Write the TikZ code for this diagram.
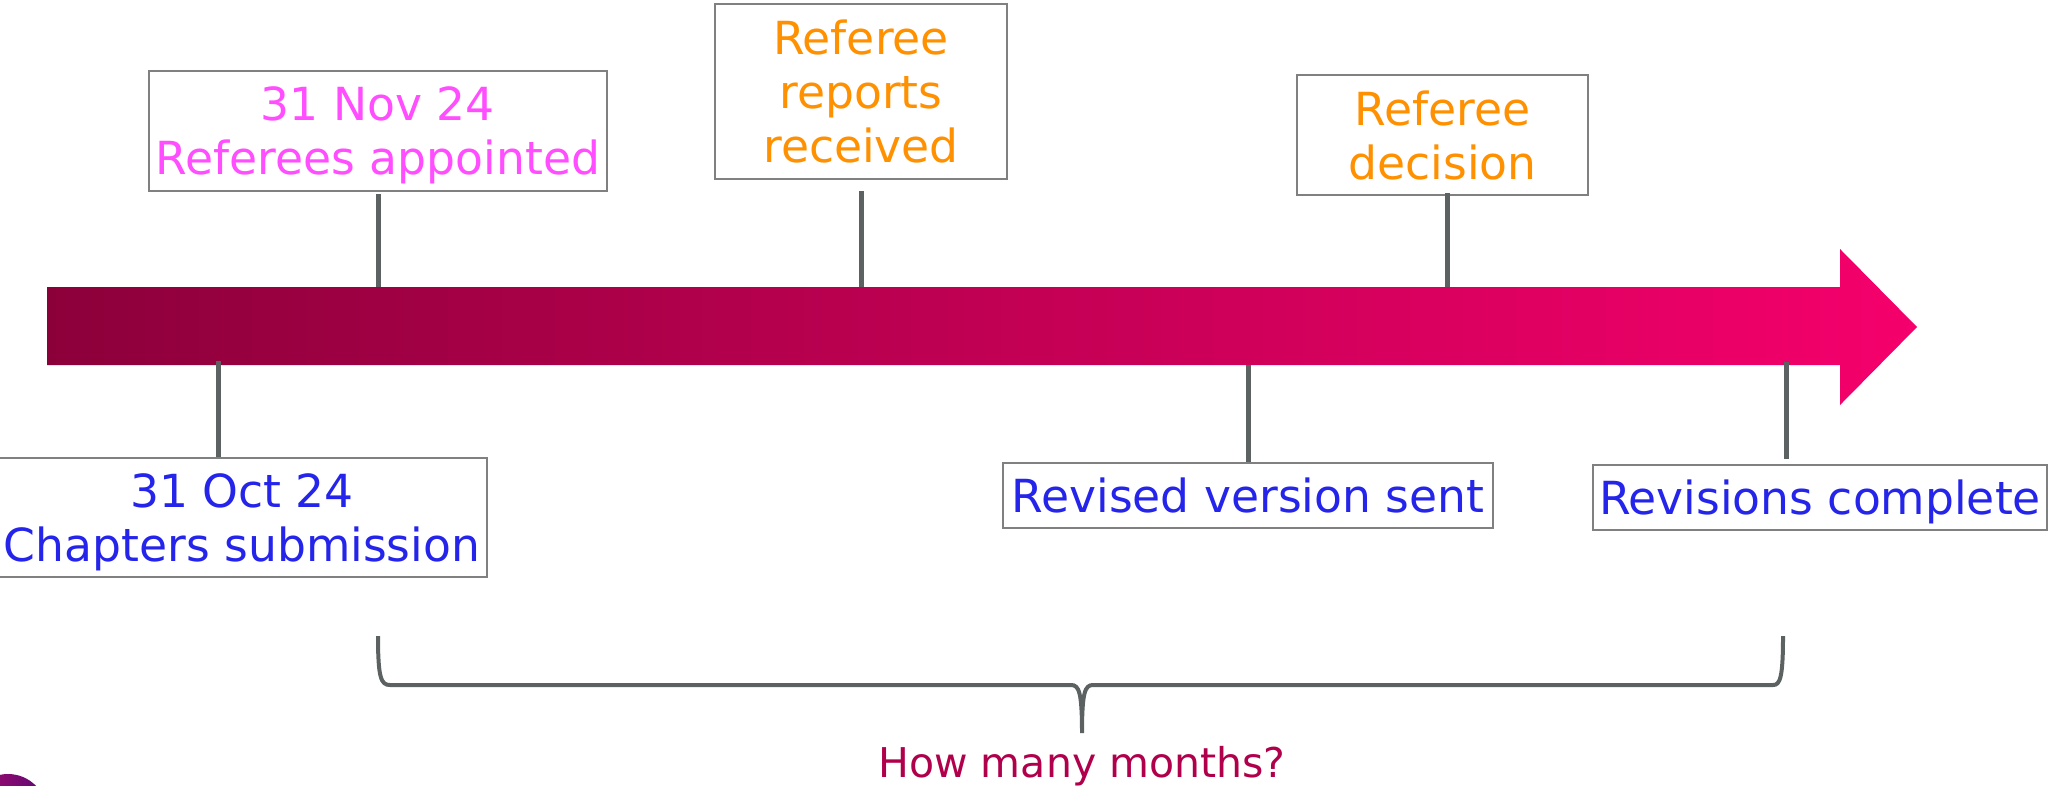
\documentclass[tikz,border=0pt]{standalone}
\usepackage{fontspec}
\setmainfont{DejaVu Sans}
\definecolor{arrL}{RGB}{140,0,58}
\definecolor{arrR}{RGB}{245,0,108}
\definecolor{conncol}{RGB}{92,97,97}
\definecolor{boxline}{RGB}{128,128,128}
\definecolor{pinktxt}{RGB}{255,77,255}
\definecolor{orangetxt}{RGB}{255,144,0}
\definecolor{bluetxt}{RGB}{36,36,235}
\definecolor{redtxt}{RGB}{176,0,76}
\definecolor{circL}{RGB}{170,10,110}
\definecolor{circR}{RGB}{90,10,115}
\tikzset{
  evbox/.style={draw=boxline, line width=1.5pt, fill=white, align=center, inner sep=0pt,
    text depth=0pt, font=\fontsize{45.6}{54}\selectfont},
  conn/.style={draw=conncol, line width=5pt},
  bracestyle/.style={draw=conncol, line width=4pt},
}
\begin{document}
\begin{tikzpicture}[x=1pt,y=-1pt]
\useasboundingbox (0,0) rectangle (2049,785);
\begin{scope}
\clip (0,0) rectangle (2049,785);
% decorative circle in the corner
\shade[left color=circL, right color=circR] (8,813) circle (39);
% timeline arrow
\shade[left color=arrL, right color=arrR]
  (47,287) -- (1840,287) -- (1840,249) -- (1917,327) -- (1840,405) -- (1840,365) -- (47,365) -- cycle;
\coordinate (atop) at (0,287);
\coordinate (abot) at (0,365);
% boxes
\node[evbox, text=pinktxt, minimum width=458, minimum height=120] (b1) at (378,131) {31 Nov 24\\Referees appointed};
\node[evbox, text=orangetxt, minimum width=292, minimum height=175] (b2) at (861,91.5) {Referee\\reports\\received};
\node[evbox, text=orangetxt, minimum width=291, minimum height=120] (b3) at (1442.5,135) {Referee\\decision};
\node[evbox, text=bluetxt, minimum width=490, minimum height=119] (b4) at (242,517.5) {31 Oct 24\\Chapters submission};
\node[evbox, text=bluetxt, minimum width=490, minimum height=65] (b5) at (1248,495.5) {Revised version sent};
\node[evbox, text=bluetxt, minimum width=454, minimum height=65] (b6) at (1820,497.5) {Revisions complete};
% connectors
\coordinate (l1) at (378,194);
\draw[conn] (l1) -- (l1 |- atop);
\coordinate (l2) at (861,191);
\draw[conn] (l2) -- (l2 |- atop);
\coordinate (l3) at (1447,193);
\draw[conn] (l3) -- (l3 |- atop);
\coordinate (l4) at (218,361);
\draw[conn] (l4) -- (l4 |- b4.north);
\draw[conn] (b5.north) -- (b5.north |- abot);
\coordinate (l6) at (1786,362);
\coordinate (l6e) at (1786,459);
\draw[conn] (l6) -- (l6e);
% brace
\coordinate (bl) at (378,636);
\coordinate (br) at (1783,636);
\coordinate (bm) at (1082,733);
\draw[bracestyle] (bl) .. controls (378,678) and (381,685) .. (390,685) -- (1071,685)
  .. controls (1079,685) and (1082,692) .. (bm)
  .. controls (1082,692) and (1085,685) .. (1093,685) -- (1773,685)
  .. controls (1780,685) and (1783,678) .. (br);
\node[text=redtxt, anchor=base, font=\fontsize{41}{48}\selectfont] (q) at (1082,777) {How many months?};
\end{scope}
\end{tikzpicture}
\end{document}
